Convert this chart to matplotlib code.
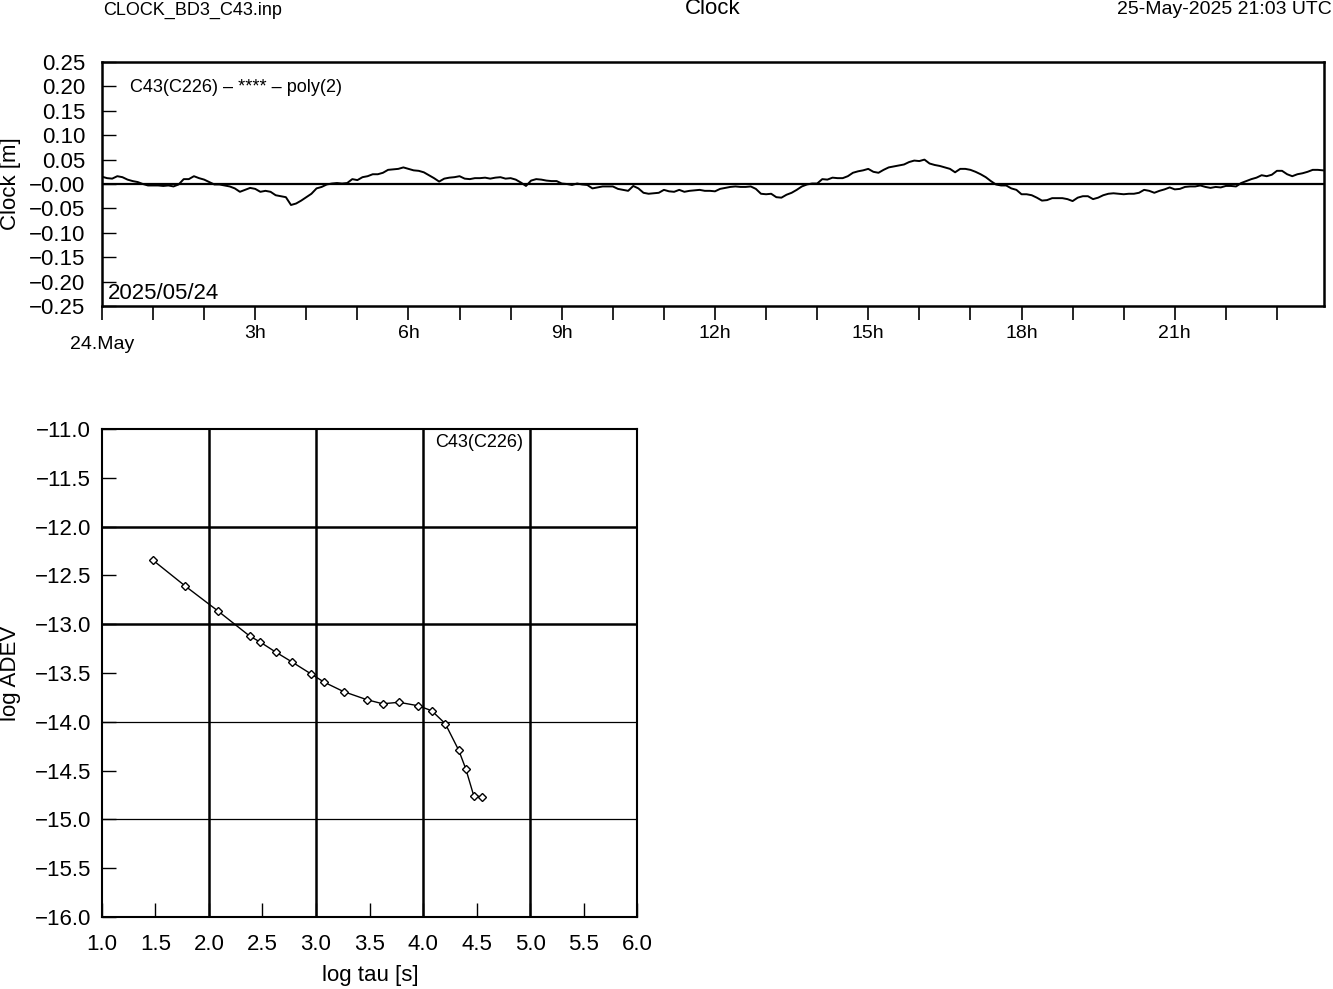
import numpy as np
import matplotlib.pyplot as plt

plt.rcParams['font.family'] = ['Liberation Sans', 'DejaVu Sans']

# clock residuals [m], read every 0.1 h from 00:00 to 23:54
clock = [
    0.015, 0.012, 0.011, 0.016, 0.014, 0.009, 0.006, 0.004, 0.000, -0.003,
    -0.003, -0.003, -0.004, -0.003, -0.005, -0.001, 0.010, 0.010, 0.016, 0.012,
    0.009, 0.004, -0.001, -0.001, -0.003, -0.005, -0.009, -0.016, -0.012, -0.008,
    -0.010, -0.016, -0.014, -0.016, -0.023, -0.025, -0.027, -0.043, -0.040, -0.034,
    -0.027, -0.020, -0.009, -0.006, -0.001, 0.001, 0.002, 0.001, 0.002, 0.010,
    0.008, 0.014, 0.016, 0.020, 0.020, 0.023, 0.029, 0.030, 0.031, 0.034,
    0.031, 0.028, 0.027, 0.024, 0.018, 0.012, 0.005, 0.011, 0.013, 0.014,
    0.016, 0.011, 0.010, 0.012, 0.012, 0.013, 0.011, 0.013, 0.014, 0.011,
    0.012, 0.009, 0.003, -0.004, 0.007, 0.010, 0.009, 0.007, 0.006, 0.006,
    0.001, 0.000, -0.002, 0.001, -0.001, -0.002, -0.009, -0.007, -0.005, -0.005,
    -0.005, -0.010, -0.012, -0.014, -0.004, -0.009, -0.018, -0.020, -0.019, -0.018,
    -0.012, -0.015, -0.016, -0.012, -0.016, -0.014, -0.013, -0.012, -0.014, -0.014,
    -0.015, -0.010, -0.008, -0.006, -0.005, -0.006, -0.006, -0.005, -0.010, -0.020,
    -0.021, -0.020, -0.027, -0.028, -0.022, -0.018, -0.012, -0.005, -0.001, 0.001,
    0.001, 0.010, 0.009, 0.013, 0.012, 0.012, 0.016, 0.023, 0.026, 0.028,
    0.031, 0.025, 0.023, 0.029, 0.034, 0.036, 0.038, 0.040, 0.045, 0.048,
    0.047, 0.050, 0.042, 0.039, 0.037, 0.034, 0.031, 0.024, 0.031, 0.031,
    0.029, 0.025, 0.020, 0.014, 0.006, -0.001, -0.003, -0.003, -0.009, -0.012,
    -0.021, -0.021, -0.023, -0.028, -0.034, -0.033, -0.029, -0.029, -0.029, -0.031,
    -0.035, -0.028, -0.025, -0.025, -0.031, -0.028, -0.023, -0.020, -0.019, -0.020,
    -0.021, -0.020, -0.020, -0.018, -0.012, -0.014, -0.018, -0.014, -0.011, -0.007,
    -0.011, -0.010, -0.006, -0.005, -0.005, -0.003, -0.006, -0.008, -0.006, -0.007,
    -0.004, -0.004, -0.005, 0.002, 0.006, 0.010, 0.013, 0.018, 0.016, 0.019,
    0.027, 0.027, 0.020, 0.016, 0.020, 0.022, 0.025, 0.029, 0.029, 0.028,
]
sample_step_h = 0.1
hours = np.arange(len(clock)) * sample_step_h

clock_ticks = [0.25, 0.20, 0.15, 0.10, 0.05, 0.0, -0.05, -0.10, -0.15, -0.20, -0.25]
clock_tick_labels = ['0.25', '0.20', '0.15', '0.10', '0.05', '\u22120.00',
                     '\u22120.05', '\u22120.10', '\u22120.15', '\u22120.20', '\u22120.25']
hour_ticks = list(range(0, 24))
hour_labels = ['%dh' % h if h % 3 == 0 and h > 0 else '' for h in hour_ticks]

# Allan deviation
log_tau = [1.474, 1.778, 2.081, 2.380, 2.477, 2.623, 2.776, 2.950, 3.078, 3.257,
           3.477, 3.623, 3.776, 3.953, 4.081, 4.208, 4.334, 4.399, 4.474, 4.554]
log_adev = [-12.342, -12.609, -12.862, -13.121, -13.182, -13.285, -13.387, -13.507,
            -13.595, -13.690, -13.774, -13.815, -13.800, -13.835, -13.886, -14.019,
            -14.292, -14.480, -14.757, -14.770]
tau_ticks = [1.0, 1.5, 2.0, 2.5, 3.0, 3.5, 4.0, 4.5, 5.0, 5.5, 6.0]
adev_ticks = [-11.0, -11.5, -12.0, -12.5, -13.0, -13.5, -14.0, -14.5, -15.0, -15.5, -16.0]
vgrid = [2.0, 3.0, 4.0, 5.0]
hgrid_thick = [-12.0, -13.0]
hgrid_thin = [-14.0, -15.0]

fig = plt.figure(figsize=(13.33, 9.89), dpi=100)

# header
fig.text(193 / 1333, 1 - 10 / 989, 'CLOCK_BD3_C43.inp', ha='center', va='center', fontsize=13)
fig.text(713 / 1333, 1 - 9 / 989, 'Clock', ha='center', va='center', fontsize=16)
fig.text(1332 / 1333, 1 - 10 / 989, '25-May-2025 21:03 UTC', ha='right', va='center', fontsize=14)

# top panel: clock
ax1 = fig.add_axes([0.0765, 0.6906, 0.9167, 0.2467])
ax1.plot(hours, clock, color='k', lw=1.4)
ax1.axhline(0, color='k', lw=1.6)
ax1.set_xlim(0, 23.92)
ax1.set_ylim(-0.25, 0.25)
ax1.set_yticks(clock_ticks)
ax1.set_yticklabels(clock_tick_labels)
ax1.set_xticks(hour_ticks)
ax1.set_xticklabels(hour_labels)
ax1.tick_params(axis='y', direction='in', length=10, width=1, labelsize=16, pad=12)
ax1.tick_params(axis='x', direction='out', length=10, width=1.2, labelsize=14, pad=4)
for s in ax1.spines.values():
    s.set_linewidth(1.8)
ax1.annotate('24.May', xy=(0, 0), xycoords=('data', 'axes fraction'),
             xytext=(0, -28), textcoords='offset points', ha='center', va='center', fontsize=14)
ax1.text(0.12, 0.053, '2025/05/24', transform=ax1.get_xaxis_transform(),
         ha='left', va='center', fontsize=16)
ax1.text(133 / 1333 - 0.0765, 0.8975, 'C43(C226) \u2013 **** \u2013 poly(2)',
         transform=ax1.transAxes, ha='left', va='center', fontsize=13)
fig.text(11 / 1333, 1 - 184 / 989, 'Clock [m]', rotation=90, ha='center', va='center', fontsize=16)

# bottom panel: ADEV
ax2 = fig.add_axes([0.0765, 0.0728, 0.4014, 0.4934])
for g in vgrid:
    ax2.axvline(g, color='k', lw=1.8)
for g in hgrid_thick:
    ax2.axhline(g, color='k', lw=1.8)
for g in hgrid_thin:
    ax2.axhline(g, color='k', lw=0.9)
ax2.plot(log_tau, log_adev, color='k', lw=1, marker='D', ms=4.5, mfc='white', mew=1)
ax2.set_xlim(1.0, 6.0)
ax2.set_ylim(-16.0, -11.0)
ax2.set_xticks(tau_ticks)
ax2.set_xticklabels(['%.1f' % v for v in tau_ticks])
ax2.set_yticks(adev_ticks)
ax2.set_yticklabels([('%.1f' % v).replace('-', '\u2212') for v in adev_ticks])
ax2.tick_params(axis='both', direction='in', length=10, width=1, labelsize=16)
ax2.tick_params(axis='y', pad=8)
ax2.tick_params(axis='x', pad=12)
for s in ax2.spines.values():
    s.set_linewidth(1.5)
ax2.text((479 - 102) / 535, 0.972, 'C43(C226)', transform=ax2.transAxes,
         ha='center', va='center', fontsize=13)
fig.text(370 / 1333, 1 - 975 / 989, 'log tau [s]', ha='center', va='center', fontsize=16)
fig.text(11 / 1333, 1 - 673 / 989, 'log ADEV', rotation=90, ha='center', va='center', fontsize=16)

fig.savefig('out.png', dpi=100)
